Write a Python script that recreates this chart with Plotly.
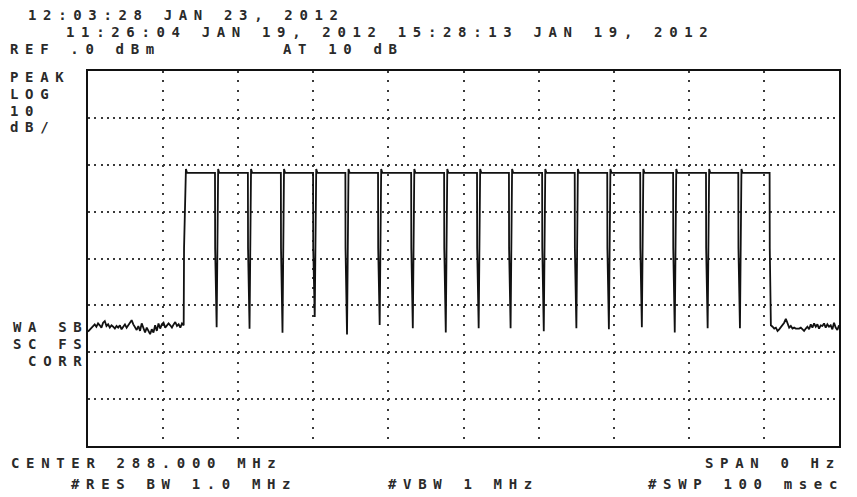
import numpy as np
import plotly.graph_objects as go

sweep_range_ms = [0, 100]          # zero span, 100 ms sweep
level_range_dbm = [-80, 0]         # REF .0 dBm, 10 dB/div, 8 div

noise_left_dbm = [-55.6, -55.25, -54.75, -54.4, -54.05, -54.55, -53.85, -54.25, -54.75, -53.7,
                  -53.35, -54.4, -54.05, -54.75, -54.25, -54.55, -54.95, -54.4, -54.75, -54.25,
                  -55.1, -54.55, -54.05, -54.75, -54.25, -53.7, -53.15, -54.05, -54.75, -55.25,
                  -54.4, -55.45, -53.85, -54.95, -55.8, -54.75, -55.45, -56.15, -55.1, -55.8,
                  -54.25, -55.45, -53.85, -54.95, -54.05, -53.7, -54.75, -54.4, -53.85, -54.25,
                  -54.75, -54.05, -53.55, -54.4, -54.05, -54.75, -53.85, -54.25]
noise_right_dbm = [-54.25, -54.55, -54.95, -54.75, -55.45, -55.1, -54.55, -54.25, -53.7, -52.85,
                   -53.85, -54.75, -54.4, -54.95, -54.75, -54.95, -54.95, -54.95, -54.75, -55.1,
                   -55.45, -54.95, -54.55, -55.1, -54.05, -54.75, -53.85, -54.55, -54.05, -54.95,
                   -54.25, -54.4, -53.85, -54.75, -54.05, -54.55, -54.25, -55.1, -53.7, -54.75,
                   -55.25, -54.25]

burst_start_ms = 12.79
burst_end_ms = 90.78
gap_times_ms = [17.13, 21.51, 25.90, 30.19, 34.49, 38.84, 43.25, 47.64, 52.02,
                56.27, 60.69, 65.03, 69.36, 73.75, 78.13, 82.51, 86.81]
gap_floor_dbm = [-54.65, -55.0, -55.85, -52.5, -56.2, -54.2, -54.9, -55.8, -54.9,
                 -54.9, -55.5, -54.9, -55.1, -54.65, -55.8, -54.9, -54.9]
pulse_level_dbm = -21.75
pulse_overshoot_dbm = -20.9
edge_step_dbm = -37.8

header_lines = ["12:03:28 JAN 23, 2012",
                "11:26:04 JAN 19, 2012 15:28:13 JAN 19, 2012"]
ref_text = "REF .0 dBm"
atten_text = "AT 10 dB"
left_labels_top = ["PEAK", "LOG", "10", "dB/"]
left_labels_low = ["WA SB", "SC FS", " CORR"]
bottom_labels = ["CENTER 288.000 MHz", "SPAN 0 Hz", "#RES BW 1.0 MHz", "#VBW 1 MHz", "#SWP 100 msec"]

# ---------------- build the trace ----------------
t, v = [], []
t_left = np.linspace(0, burst_start_ms - 0.05, len(noise_left_dbm))
t += list(t_left); v += noise_left_dbm
t += [burst_start_ms, burst_start_ms + 0.25, burst_start_ms + 0.4]
v += [edge_step_dbm, pulse_overshoot_dbm, pulse_level_dbm]
for tg, fl in zip(gap_times_ms, gap_floor_dbm):
    t += [tg - 0.22, tg - 0.2, tg, tg + 0.2, tg + 0.35]
    v += [pulse_level_dbm, edge_step_dbm, fl, pulse_overshoot_dbm, pulse_level_dbm]
t += [burst_end_ms - 0.02, burst_end_ms]
v += [pulse_level_dbm, edge_step_dbm]
t_right = np.linspace(burst_end_ms + 0.15, sweep_range_ms[1], len(noise_right_dbm))
t += list(t_right); v += noise_right_dbm

W, H = 857, 497
L, R, T, B = 88, 18, 71, 51
PW, PH = W - L - R, H - T - B

fig = go.Figure()
fig.add_trace(go.Scatter(x=t, y=v, mode="lines",
                         line=dict(color="#111111", width=1.8), hoverinfo="skip"))

FONT = dict(family="DejaVu Sans Mono", size=14, color="#2a2a2a", weight="bold")


def px_ann(text, px, py):
    fig.add_annotation(text=text, xref="paper", yref="paper",
                       x=(px - L) / PW, y=(H - B - py) / PH,
                       xanchor="left", yanchor="middle", align="left",
                       showarrow=False, borderpad=0, font=FONT)


px_ann(header_lines[0], 27, 15)
px_ann(header_lines[1], 65, 32.3)
px_ann(ref_text, 9, 49.3)
px_ann(atten_text, 282, 49.3)
for i, s in enumerate(left_labels_top):
    px_ann(s, 9, 77.5 + 16.6 * i)
for i, s in enumerate(left_labels_low):
    px_ann(s, 11.5, 327 + 17 * i)
px_ann(bottom_labels[0], 10, 462.5)
px_ann(bottom_labels[1], 704, 462.5)
px_ann(bottom_labels[2], 70, 484)
px_ann(bottom_labels[3], 387, 484)
px_ann(bottom_labels[4], 647, 484)

fig.update_layout(
    width=W, height=H, autosize=False,
    margin=dict(l=L, r=R, t=T, b=B, pad=0),
    paper_bgcolor="white", plot_bgcolor="white",
    showlegend=False,
)
fig.update_xaxes(range=sweep_range_ms, dtick=10, showticklabels=False, ticks="",
                 showgrid=True, gridcolor="#3a3a3a", gridwidth=2, griddash="2px,7.38px",
                 zeroline=False, showline=True, mirror=True, linecolor="#111111", linewidth=2)
fig.update_yaxes(range=level_range_dbm, dtick=10, showticklabels=False, ticks="",
                 showgrid=True, gridcolor="#3a3a3a", gridwidth=2, griddash="2px,4.26px",
                 zeroline=False, showline=True, mirror=True, linecolor="#111111", linewidth=2)

post = ("var s=document.createElement('style');"
        "s.textContent='html,body{margin:0;padding:0;overflow:hidden;}"
        ".annotation-text{letter-spacing:6.65px;}';"
        "document.head.appendChild(s);")
fig.write_html("out.html", post_script=post, config={"displayModeBar": False})
